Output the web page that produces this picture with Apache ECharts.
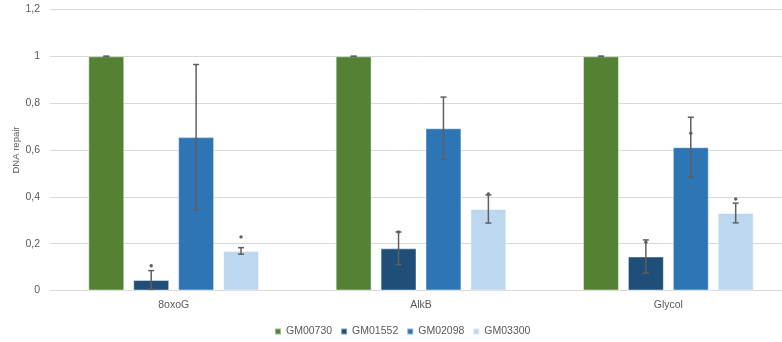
<!DOCTYPE html>
<html>
<head>
<meta charset="utf-8">
<script src="https://cdn.jsdelivr.net/npm/echarts@6/dist/echarts.min.js"></script>
<style>html,body{margin:0;padding:0;background:#fff;}#c{width:782px;height:342px;}</style>
</head>
<body>
<div id="c"></div>
<script>
const categories = ['8oxoG', 'AlkB', 'Glycol'];
const seriesNames = ['GM00730', 'GM01552', 'GM02098', 'GM03300'];
const gm00730 = [1.0, 1.0, 1.0];
const gm01552 = [0.045, 0.180, 0.145];
const gm02098 = [0.655, 0.693, 0.612];
const gm03300 = [0.169, 0.348, 0.331];
const err00730 = [0.0, 0.0, 0.0];
const err01552 = [0.040, 0.070, 0.071];
const err02098 = [0.310, 0.133, 0.128];
const err03300 = [0.014, 0.060, 0.042];
const star00730 = [null, null, null];
const star01552 = [0.106, 0.250, 0.206];
const star02098 = [null, null, 0.672];
const star03300 = [0.229, 0.412, 0.391];
const yTicks = [0, 0.2, 0.4, 0.6, 0.8, 1.0, 1.2];

const colors = ['#548235', '#1F4E79', '#2E75B6', '#BDD7EE'];
const values = [gm00730, gm01552, gm02098, gm03300];
const errs = [err00730, err01552, err02098, err03300];
const stars = [star00730, star01552, star02098, star03300];

const FONT = 'Liberation Sans';
const CAT_GAP = 0.31, BAR_GAP = 0.25, N = 4;

const series = [];
values.forEach((vals, i) => {
  series.push({
    name: seriesNames[i], type: 'bar', data: vals,
    barCategoryGap: (CAT_GAP * 100) + '%', barGap: (BAR_GAP * 100) + '%',
    itemStyle: { color: colors[i], borderColor: 'rgba(255,255,255,0.45)', borderWidth: 1 },
    emphasis: { disabled: true }
  });
});
values.forEach((vals, i) => {
  series.push({
    type: 'custom', name: seriesNames[i] + '_err', z: 5, silent: true,
    data: vals.map((v, k) => [k, v, errs[i][k], stars[i][k] == null ? -1 : stars[i][k]]),
    encode: { x: 0, y: 1 },
    renderItem: function (params, api) {
      const k = api.value(0), v = api.value(1), e = api.value(2), s = api.value(3);
      const catW = api.size([1, 0])[0];
      const groupW = catW * (1 - CAT_GAP);
      const bw = groupW / (N + (N - 1) * BAR_GAP);
      const c = api.coord([k, v]);
      const x = c[0] - groupW / 2 + i * bw * (1 + BAR_GAP) + bw / 2;
      const top = api.coord([k, v + e])[1];
      const bot = api.coord([k, Math.max(0, v - e)])[1];
      const cap = 3;
      const st = { stroke: '#5f5f5f', lineWidth: 1.5 };
      const ch = [
        { type: 'line', shape: { x1: x, y1: top, x2: x, y2: bot }, style: st },
        { type: 'line', shape: { x1: x - cap, y1: top, x2: x + cap, y2: top }, style: st },
        { type: 'line', shape: { x1: x - cap, y1: bot, x2: x + cap, y2: bot }, style: st }
      ];
      if (s >= 0) {
        const sy = api.coord([k, s])[1];
        ch.push({ type: 'circle', shape: { cx: x, cy: sy, r: 1.7 }, style: { fill: '#5f5f5f' } });
      }
      return { type: 'group', children: ch };
    }
  });
});

const chart = echarts.init(document.getElementById('c'), null, { renderer: 'canvas' });
chart.setOption({
  animation: false,
  textStyle: { fontFamily: FONT },
  grid: { left: 50, top: 9.5, width: 742, height: 281, containLabel: false, outerBoundsMode: 'none' },
  legend: {
    data: seriesNames, bottom: 0, left: 269, icon: 'rect',
    itemWidth: 6, itemHeight: 6, itemGap: 8,
    textStyle: { color: '#595959', fontSize: 10.5, fontFamily: FONT }
  },
  xAxis: {
    type: 'category', data: categories,
    axisLine: { lineStyle: { color: '#d9d9d9', width: 1 } },
    axisTick: { show: false },
    axisLabel: { color: '#595959', fontSize: 10.5, margin: 9, fontFamily: FONT }
  },
  yAxis: {
    type: 'value', min: 0, max: 1.2, interval: 0.2,
    name: 'DNA repair', nameLocation: 'middle', nameGap: 29, nameMoveOverlap: false,
    nameTextStyle: { color: '#595959', fontSize: 9.5, fontFamily: FONT },
    axisLine: { show: false }, axisTick: { show: false },
    splitLine: { lineStyle: { color: '#d9d9d9', width: 1 } },
    axisLabel: {
      color: '#595959', fontSize: 10.5, margin: 10, fontFamily: FONT,
      formatter: function (v) {
        const t = yTicks.find(q => Math.abs(q - v) < 1e-9);
        const val = t === undefined ? v : t;
        return String(Math.round(val * 10) / 10).replace('.', ',');
      }
    }
  },
  series: series
});
</script>
</body>
</html>
